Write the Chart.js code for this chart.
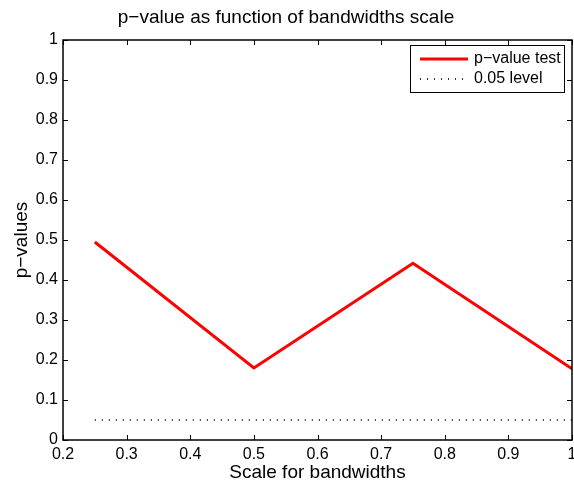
<!DOCTYPE html>
<html>
<head>
<meta charset="utf-8">
<script src="https://cdn.jsdelivr.net/npm/chart.js@4"></script>
<style>
  html, body { margin: 0; padding: 0; background: #fff; }
  #wrap { width: 574px; height: 488px; }
</style>
</head>
<body>
<div id="wrap"><canvas id="pchart" width="574" height="488"></canvas></div>
<script>
const scales = [0.25, 0.5, 0.75, 1.0];
const pvalues = [0.495, 0.18, 0.442, 0.178];
const levelX = [0.25, 1.0];
const levelY = [0.05, 0.05];
const xTicks = [0.2, 0.3, 0.4, 0.5, 0.6, 0.7, 0.8, 0.9, 1];
const yTicks = [0, 0.1, 0.2, 0.3, 0.4, 0.5, 0.6, 0.7, 0.8, 0.9, 1];

const font = 'Liberation Sans, Arial, Helvetica, sans-serif';

// box + inward ticks on all four sides, like matlab
const boxPlugin = {
    id: 'box',
    afterDraw(chart) {
        let ctx = chart.ctx;
        let a = chart.chartArea;
        let x = chart.scales.x, y = chart.scales.y;
        ctx.save();
        ctx.strokeStyle = '#000';
        ctx.lineWidth = 1;
        ctx.beginPath();
        xTicks.forEach(v => {
            let px = Math.round(x.getPixelForValue(v)) + 0.5;
            ctx.moveTo(px, a.bottom); ctx.lineTo(px, a.bottom - 5);
            ctx.moveTo(px, a.top); ctx.lineTo(px, a.top + 5);
        });
        yTicks.forEach(v => {
            let py = Math.round(y.getPixelForValue(v)) + 0.5;
            ctx.moveTo(a.left, py); ctx.lineTo(a.left + 5, py);
            ctx.moveTo(a.right, py); ctx.lineTo(a.right - 5, py);
        });
        ctx.stroke();
        ctx.lineWidth = 1.5;
        ctx.strokeRect(a.left, a.top, a.right - a.left, a.bottom - a.top);

        // legend
        let lx = 410, ly = 45, lw = 154, lh = 47;
        ctx.fillStyle = '#fff';
        ctx.fillRect(lx, ly, lw, lh);
        ctx.lineWidth = 1;
        ctx.strokeRect(lx + 0.5, ly + 0.5, lw, lh);
        ctx.font = '16px ' + font;
        ctx.textBaseline = 'middle';
        chart.data.datasets.forEach((ds, i) => {
            let yy = ly + 14 + i * 20;
            ctx.save();
            ctx.strokeStyle = ds.borderColor;
            ctx.lineWidth = ds.borderWidth;
            ctx.setLineDash(ds.borderDash || []);
            ctx.beginPath();
            ctx.moveTo(lx + 10, yy); ctx.lineTo(lx + 58, yy);
            ctx.stroke();
            ctx.restore();
            ctx.fillStyle = '#000';
            ctx.fillText(ds.label, lx + 64, yy);
        });
        ctx.restore();
    }
};

const fmt = v => String(+Number(v).toFixed(1));

let ctx = document.getElementById('pchart').getContext('2d');
let chart = new Chart(ctx, {
    type: 'line',
    data: {
        datasets: [{
            label: 'p\u2212value test',
            data: scales.map((s, i) => ({ x: s, y: pvalues[i] })),
            borderColor: '#ff0000',
            borderWidth: 3,
            pointRadius: 0,
            tension: 0
        }, {
            label: '0.05 level',
            data: levelX.map((s, i) => ({ x: s, y: levelY[i] })),
            borderColor: '#333',
            borderWidth: 2,
            borderDash: [1, 6],
            pointRadius: 0
        }]
    },
    options: {
        responsive: false,
        animation: false,
        layout: { padding: { left: 0, right: 2, top: 0, bottom: 0 } },
        plugins: {
            legend: { display: false },
            tooltip: { enabled: false },
            title: {
                display: true,
                text: 'p\u2212value as function of bandwidths scale',
                color: '#000',
                font: { family: font, size: 19, weight: 'normal' },
                padding: { top: 6.6, bottom: 10.6 }
            }
        },
        scales: {
            x: {
                type: 'linear',
                min: 0.2,
                max: 1,
                afterBuildTicks: s => { s.ticks = xTicks.map(v => ({ value: v })); },
                afterFit: s => { s.height = 48; s.paddingLeft = 0; s.paddingRight = 0; },
                grid: { display: false, drawTicks: false },
                border: { display: false },
                ticks: {
                    color: '#000',
                    padding: 5,
                    maxRotation: 0,
                    autoSkip: false,
                    callback: fmt,
                    font: { family: font, size: 16 }
                },
                title: {
                    display: true,
                    text: 'Scale for bandwidths',
                    color: '#000',
                    font: { family: font, size: 19 },
                    padding: { top: 0, bottom: 3.6 }
                }
            },
            y: {
                type: 'linear',
                min: 0,
                max: 1,
                afterBuildTicks: s => { s.ticks = yTicks.map(v => ({ value: v })); },
                afterFit: s => { s.width = 63; s.paddingTop = 0; s.paddingBottom = 0; },
                grid: { display: false, drawTicks: false },
                border: { display: false },
                ticks: {
                    color: '#000',
                    padding: 5,
                    autoSkip: false,
                    callback: fmt,
                    font: { family: font, size: 16 }
                },
                title: {
                    display: true,
                    text: 'p\u2212values',
                    color: '#000',
                    font: { family: font, size: 19 },
                    padding: { top: 10.6, bottom: 0 }
                }
            }
        }
    },
    plugins: [boxPlugin]
});
</script>
</body>
</html>
